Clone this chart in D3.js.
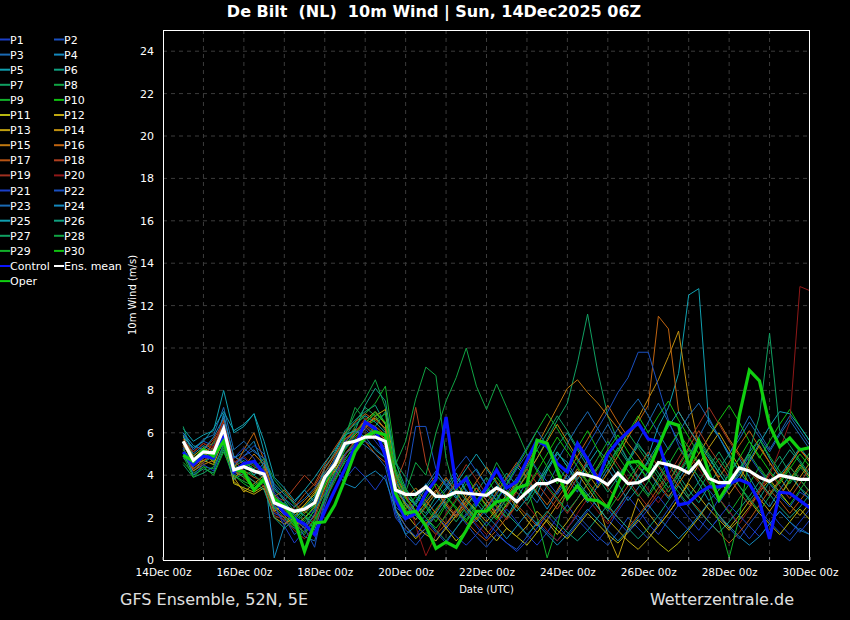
<!DOCTYPE html>
<html><head><meta charset="utf-8">
<script src="https://cdn.jsdelivr.net/npm/d3@7"></script>
<style>
html,body{margin:0;padding:0;background:#000;}
svg{display:block;}
text{font-family:"DejaVu Sans",Verdana,sans-serif;}
</style></head><body>
<svg id="chart" width="850" height="620"></svg>
<script>
// ---------- data ----------
const startTime = "2025-12-14T12:00:00Z";   // first forecast step
const stepHours = 6;
const xTickDates = ["2025-12-14","2025-12-16","2025-12-18","2025-12-20","2025-12-22","2025-12-24","2025-12-26","2025-12-28","2025-12-30"];
const xTickLabels = ["14Dec 00z","16Dec 00z","18Dec 00z","20Dec 00z","22Dec 00z","24Dec 00z","26Dec 00z","28Dec 00z","30Dec 00z"];
const yTicks = [0,2,4,6,8,10,12,14,16,18,20,22,24];

const p1=[5.2,4.6,5.0,4.8,5.9,4.6,4.8,4.4,4.2,2.5, 1.8,1.5,2.0,2.4,3.8,4.6,3.8,4.4,3.9,3.3, 4.0,2.0,1.4,1.1,1.9,1.3,0.8,1.5,2.2,1.6, 1.0,1.7,2.4,1.8,1.2,0.7,1.3,2.0,2.6,1.9, 1.4,0.9,1.5,2.3,3.0,2.4,1.7,1.2,1.9,2.6, 2.0,1.4,2.1,2.9,2.3,1.6,1.0,1.6,2.3,1.7, 1.2,1.8,2.4];
const p2=[6.0,5.2,5.6,5.4,6.4,4.0,4.3,4.6,3.9,2.2, 2.0,1.2,1.6,2.1,3.2,4.4,5.2,5.9,6.6,6.1, 5.0,2.2,1.2,0.7,1.3,0.9,1.6,2.3,1.7,1.1, 0.6,1.2,0.8,0.5,1.1,1.8,1.3,0.9,1.5,2.1, 1.6,1.1,0.7,1.3,2.0,1.5,1.0,1.7,2.4,3.1, 2.5,1.9,1.4,2.0,1.5,1.0,1.7,2.3,1.8,1.3, 0.9,1.5,1.2];
const p3=[5.5,4.5,4.8,5.3,6.8,4.4,4.9,5.2,4.6,3.1, 2.5,2.0,1.1,0.9,2.6,3.9,4.8,5.3,5.7,6.2, 5.8,3.9,2.7,2.3,2.8,3.3,2.5,2.1,3.0,3.6, 2.8,2.3,3.1,3.9,3.3,2.7,3.5,4.4,3.8,3.2, 4.8,5.6,6.4,5.5,4.7,5.6,6.5,7.4,6.5,5.6, 4.9,5.8,6.7,5.8,5.0,5.9,6.8,6.0,5.2,6.0, 6.8,6.1,5.4];
const p4=[5.8,5.0,5.4,5.1,6.9,4.8,5.1,5.6,4.3,0.1, 1.6,2.4,2.1,1.4,2.9,4.2,5.0,5.5,6.3,5.9, 5.2,2.3,1.9,2.7,3.6,2.9,3.4,4.1,3.2,2.6, 3.3,2.5,2.0,2.9,3.7,3.1,2.4,3.2,4.0,3.4, 2.7,3.5,4.3,3.6,2.8,3.4,4.2,3.5,2.9,3.8, 4.5,3.6,2.8,3.3,4.1,4.8,3.9,3.1,2.5,3.3, 4.0,3.4,2.8];
const p5=[6.2,5.6,5.9,6.1,8.0,6.0,6.3,6.9,5.1,3.4, 2.8,2.1,2.5,3.0,4.4,5.0,6.0,6.4,6.8,6.5, 6.0,3.6,3.0,2.6,3.4,4.0,3.5,2.9,3.8,4.3, 3.5,2.8,3.6,4.4,3.9,3.1,4.2,5.0,4.6,3.8, 4.5,5.2,4.7,3.9,4.6,5.4,4.9,6.3,7.2,8.8, 12.5,12.8,6.4,5.8,4.9,4.2,5.1,5.7,4.8,4.0, 4.6,5.3,4.7];
const p6=[5.0,4.2,4.6,4.9,6.1,4.1,4.6,4.3,3.8,2.9, 2.2,1.9,2.4,2.9,4.3,5.1,6.1,6.6,7.0,7.3, 6.4,4.2,3.1,2.6,2.2,3.0,3.8,3.2,2.5,2.0, 2.7,3.4,4.1,3.5,2.8,3.6,4.5,5.4,6.0,5.2, 4.4,3.7,4.5,5.3,4.6,3.8,3.1,3.9,4.7,4.0, 3.3,2.7,3.5,4.3,5.0,4.2,3.5,2.9,3.7,4.5, 5.2,4.6,3.9];
const p7=[6.3,4.8,5.2,5.0,6.0,4.4,4.7,4.2,4.0,2.8, 2.4,1.7,2.2,2.6,3.7,4.5,5.8,6.5,7.2,6.8, 6.1,3.4,2.6,1.9,2.6,3.1,2.4,1.8,2.5,3.2, 3.9,3.1,2.5,3.3,4.1,4.8,5.7,6.6,7.4,9.3, 11.6,8.9,6.8,5.6,4.7,3.9,4.6,5.3,4.5,3.8, 3.0,3.7,4.4,5.1,4.3,3.5,2.8,3.4,4.2,4.9, 4.1,3.4,3.0];
const p8=[5.3,4.9,5.3,5.5,6.3,4.5,4.2,4.0,4.4,3.3, 2.9,2.3,1.8,2.3,3.5,4.8,5.9,6.9,7.6,8.5, 7.2,4.5,5.6,7.6,9.1,8.7,4.8,3.0,2.2,2.8, 3.5,4.6,3.8,3.2,2.6,3.4,4.3,5.1,4.4,3.6, 3.0,3.7,4.5,5.2,6.0,5.3,4.6,3.9,3.2,4.0, 4.8,5.6,4.9,4.1,3.4,4.2,5.0,4.3,3.6,3.0, 3.7,4.4,3.8];
const p9=[4.6,4.1,4.4,4.3,5.3,4.0,3.6,3.3,3.7,2.5, 2.0,1.5,1.2,1.9,3.4,4.5,5.5,6.3,6.9,7.4, 8.2,4.8,2.9,2.3,1.7,2.4,3.0,2.5,1.9,2.6, 3.2,2.6,2.0,2.7,3.4,2.0,0.1,1.6,3.6,4.3, 3.6,2.9,2.3,3.0,3.8,4.5,3.8,3.1,3.7,4.4, 5.2,4.5,3.7,2.9,2.2,2.9,3.6,4.4,3.7,3.1, 2.6,3.3,4.0];
const p10=[5.6,4.4,4.9,5.2,5.8,3.9,4.2,4.5,4.1,2.7, 2.2,1.8,2.3,2.0,3.3,4.1,5.2,5.8,6.3,6.6, 6.9,3.8,2.4,3.0,2.5,1.8,2.6,3.3,4.0,3.2, 2.5,1.9,2.7,3.5,4.3,5.2,4.4,3.6,4.4,5.3, 6.1,5.2,4.3,5.1,6.0,6.8,6.0,6.8,7.5,6.6, 5.8,5.0,5.8,6.6,7.3,6.5,5.6,4.8,5.6,6.4, 7.1,6.3,5.6];
const p11=[5.9,4.3,4.7,4.5,5.7,3.6,3.4,3.2,3.5,2.3, 2.6,2.2,2.6,3.1,4.0,4.4,5.0,5.4,5.9,6.1, 5.7,2.4,1.6,1.0,1.5,2.1,1.5,0.9,1.4,2.0, 1.4,0.9,1.5,1.1,0.7,1.3,1.9,1.4,1.0,1.6, 2.2,1.7,1.2,0.8,1.3,1.9,1.3,0.8,0.4,0.8, 1.4,2.0,2.7,2.1,1.5,2.1,2.8,2.2,1.7,1.2, 1.8,2.4,1.9];
const p12=[5.4,4.7,5.1,4.6,6.2,3.7,3.3,3.1,3.4,2.0, 1.7,2.0,2.6,3.2,3.9,4.7,5.4,6.0,6.6,7.0, 6.4,2.9,2.2,1.6,1.2,0.9,1.5,2.1,2.8,3.4, 2.8,2.1,1.5,1.1,1.6,2.3,1.8,1.2,1.8,2.5, 3.1,2.5,1.9,1.4,0.9,0.5,1.0,1.6,2.2,2.9, 3.6,3.0,2.4,1.9,1.4,1.9,2.5,3.2,3.8,3.2, 2.6,2.1,2.7];
const p13=[5.1,4.5,4.7,4.9,6.0,3.9,3.2,3.6,4.0,2.6, 2.1,1.6,2.0,2.5,3.6,4.2,5.0,5.6,6.2,6.8, 7.1,4.1,3.0,2.3,1.7,2.3,3.0,3.7,2.9,2.3, 1.8,2.4,3.1,2.5,1.9,1.3,1.9,2.6,3.3,4.1, 3.4,2.7,1.2,0.1,1.5,2.9,2.2,1.6,2.2,2.9, 3.7,4.5,5.3,6.0,5.2,4.4,3.6,2.9,2.3,3.0, 3.8,4.5,3.9];
const p14=[5.7,4.9,5.3,5.0,6.1,4.2,3.9,3.4,3.8,2.4, 2.5,1.9,1.5,2.1,3.4,4.3,5.4,5.9,6.4,6.7, 6.2,3.5,2.6,2.1,2.7,3.3,2.6,2.0,2.6,3.2, 2.6,2.0,2.6,3.3,4.0,4.8,5.6,6.4,5.6,4.8, 4.1,3.4,4.1,4.9,5.8,6.7,7.6,8.5,9.6,10.8, 7.6,5.4,4.6,3.8,3.1,3.8,4.6,5.4,4.6,3.9, 3.2,3.9,4.6];
const p15=[5.3,4.2,4.5,4.7,5.6,3.8,4.4,5.0,4.5,2.8, 2.6,2.3,2.8,3.3,4.1,4.9,5.7,6.1,6.5,6.3, 5.9,3.7,2.9,3.4,2.8,2.2,1.7,2.3,3.0,3.7, 4.4,3.7,3.0,3.7,4.5,5.4,6.3,7.2,8.1,8.5, 7.9,7.4,6.8,6.2,5.5,4.9,4.2,3.6,3.0,3.6, 4.3,5.0,5.8,6.5,5.7,5.0,4.3,3.7,3.1,3.8, 4.5,5.2,4.7];
const p16=[5.6,5.1,5.5,5.2,6.6,4.3,5.2,6.0,4.7,3.0, 3.3,2.7,2.2,2.8,3.9,4.6,5.5,6.2,5.6,5.0, 4.6,3.1,2.4,1.9,2.5,3.2,3.9,3.2,2.5,1.9, 2.5,3.2,3.9,4.6,3.9,3.2,2.6,3.3,4.1,4.9, 5.7,6.5,7.3,6.5,5.8,6.5,7.3,11.5,10.9,7.0, 6.2,5.4,4.6,3.9,4.6,5.4,6.1,5.3,4.6,3.9, 4.5,5.2,4.6];
const p17=[5.0,4.4,4.8,5.6,6.3,4.7,4.2,3.9,3.7,2.3, 2.0,2.5,3.1,3.6,4.5,5.3,6.0,6.5,6.9,6.6, 6.2,4.0,3.0,2.3,1.7,1.2,1.7,2.4,1.8,1.3, 0.9,1.4,2.0,2.6,2.1,1.6,2.2,2.9,3.6,4.3, 3.7,3.1,2.5,2.0,1.5,2.1,2.7,3.4,4.1,3.5, 2.9,2.4,1.8,1.3,0.8,1.3,1.9,2.6,3.3,2.8, 2.2,2.8,3.4];
const p18=[5.4,4.8,5.2,5.7,6.5,4.9,4.5,4.1,4.3,3.0, 2.8,3.4,4.0,3.5,4.3,5.0,5.7,6.1,6.4,6.0, 5.5,3.6,4.8,7.2,4.6,3.4,2.7,2.1,2.7,3.4, 2.8,2.2,2.9,3.6,4.3,3.6,3.0,2.4,3.1,3.9, 4.7,4.0,3.4,2.8,3.5,4.3,5.1,4.4,3.7,4.5, 5.3,6.1,5.3,4.6,3.9,3.2,2.6,3.3,4.1,3.5, 2.9,3.6,4.4];
const p19=[4.9,4.3,4.6,5.4,5.8,4.2,4.0,3.7,3.5,2.1, 1.9,1.4,1.0,1.6,2.8,3.9,4.9,5.7,6.3,5.8, 5.3,3.2,2.7,2.2,1.7,2.3,3.0,3.7,4.5,3.8, 3.1,2.5,1.9,2.6,3.3,4.1,3.4,2.8,2.2,2.9, 3.6,4.4,5.2,4.5,3.8,3.1,2.5,3.2,4.0,4.8, 5.6,6.4,7.2,6.4,5.6,4.9,4.2,3.6,3.0,3.7, 4.4,3.8,3.2];
const p20=[5.7,5.1,5.5,5.3,6.7,4.6,4.9,4.4,4.1,2.9, 2.4,1.8,1.3,2.0,3.3,4.4,5.3,6.0,6.7,6.2, 5.6,3.9,3.3,1.6,0.2,1.2,2.2,2.9,2.3,1.7, 1.2,1.8,2.5,3.2,2.6,2.0,1.4,0.9,1.5,2.2, 2.9,2.3,1.7,2.4,3.2,4.0,3.3,2.7,3.4,4.2, 5.0,4.3,3.6,2.9,2.3,1.7,2.4,3.2,4.0,5.2, 6.5,12.9,12.7];
const p21=[5.3,4.0,4.5,4.2,5.5,4.8,5.3,4.8,4.0,2.6, 1.6,0.8,1.4,2.2,3.7,4.8,5.6,6.0,6.2,5.6, 5.0,2.3,1.6,1.1,1.5,2.1,1.6,1.1,0.7,1.2, 1.8,1.3,0.8,0.4,0.9,1.5,2.1,1.6,1.1,1.7, 2.3,2.9,2.4,1.8,1.3,1.8,2.4,3.0,2.4,1.9, 1.4,0.9,1.4,2.0,2.6,2.1,1.6,1.1,1.7,2.3, 1.8,1.3,1.9];
const p22=[4.8,4.4,4.9,5.0,6.4,4.5,4.9,5.4,5.0,3.2, 2.6,2.0,1.5,0.6,2.9,4.0,5.0,5.4,5.6,5.3, 4.8,3.0,3.5,6.3,6.3,4.3,3.5,4.3,4.9,4.2, 3.5,2.8,3.5,4.3,5.0,4.3,3.7,3.1,3.8,4.6, 5.4,6.2,7.0,7.9,8.6,9.8,9.8,8.2,6.6,5.4, 4.6,3.9,3.3,2.7,3.4,4.1,4.9,4.2,3.6,3.0, 2.5,3.2,2.9];
const p23=[5.9,5.2,5.7,5.9,7.2,5.2,5.6,5.1,4.8,3.5, 2.9,2.5,2.9,3.4,4.1,4.7,5.3,5.7,5.4,5.0, 4.4,2.5,2.1,2.8,3.5,4.2,3.6,3.0,2.4,1.8, 2.4,3.1,3.8,4.5,5.3,6.1,5.4,4.7,5.5,6.3, 7.0,6.2,5.4,6.2,7.0,7.6,6.8,6.0,5.2,6.0, 6.8,7.4,6.6,5.8,5.0,5.7,6.5,5.8,5.1,5.9, 6.6,5.9,5.2];
const p24=[6.0,5.4,5.2,5.8,6.7,4.9,4.6,4.0,4.6,3.6, 3.1,2.7,3.3,2.7,3.9,4.3,3.6,3.4,3.9,4.2, 3.8,2.4,1.2,1.6,2.1,2.7,3.3,3.9,3.3,2.7, 2.1,1.6,1.0,1.6,2.2,1.7,1.2,0.7,1.2,1.8, 2.4,1.9,1.4,0.9,1.4,2.0,2.6,2.0,1.5,1.0, 1.5,2.1,2.7,2.1,1.6,1.1,0.7,1.1,1.7,2.3, 1.8,1.4,1.2];
const p25=[5.8,5.3,5.6,6.2,7.0,6.1,6.4,6.9,5.6,3.9, 3.4,2.8,3.3,3.9,4.6,5.2,5.9,6.1,5.8,5.2, 4.8,3.4,2.7,2.1,1.6,2.2,2.9,3.6,4.3,5.0, 4.3,3.6,2.9,2.3,2.9,3.6,4.3,5.1,4.4,3.7, 3.1,2.5,1.9,2.5,3.2,3.9,4.7,5.5,6.3,7.0, 6.2,5.5,4.8,4.1,3.4,4.0,4.7,5.5,6.3,7.0, 6.9,6.3,5.6];
const p26=[5.1,4.0,4.3,4.1,5.2,3.8,4.1,3.7,3.3,2.0, 1.5,1.9,2.5,3.0,3.8,4.4,5.3,6.1,7.3,8.1, 7.5,4.6,3.4,2.6,2.0,1.4,0.9,1.5,2.1,2.7, 3.4,2.8,2.2,1.7,1.2,1.7,2.3,1.8,1.3,0.9, 1.4,2.0,2.6,2.0,1.5,1.0,1.5,2.1,2.8,3.5, 2.9,2.3,1.8,1.3,1.8,2.4,3.0,3.7,3.1,2.5, 2.0,2.5,3.1];
const p27=[4.5,3.9,4.1,4.4,5.4,4.2,4.5,4.0,3.6,2.4, 2.7,2.1,1.6,2.4,3.1,3.8,4.6,5.2,5.8,6.3, 7.0,4.6,3.9,3.2,2.6,2.0,2.7,3.4,2.8,2.2, 1.6,2.2,2.9,3.6,4.4,5.2,6.0,6.8,6.1,5.3, 4.6,3.9,3.2,3.9,4.7,5.5,4.8,4.1,3.4,4.1, 4.9,5.7,5.0,4.3,3.6,4.3,5.1,6.8,10.7,6.1, 5.4,4.7,4.0];
const p28=[5.5,4.7,5.0,4.7,5.9,4.3,3.9,4.3,4.8,3.8, 3.2,2.6,2.1,1.7,3.0,4.6,5.8,7.2,6.6,6.0, 5.4,4.1,3.2,4.6,4.0,6.0,7.5,8.6,10.0,8.2, 7.1,8.3,7.2,6.1,5.0,4.2,3.5,2.9,2.3,2.9, 3.6,4.3,5.0,4.3,3.6,3.0,3.7,4.5,3.8,3.2, 2.6,3.3,4.1,4.8,4.1,3.5,2.9,2.3,3.0,3.7, 4.4,3.8,3.2];
const p29=[4.9,3.9,4.4,4.0,5.1,4.0,3.7,3.5,3.9,2.7, 2.3,1.7,1.3,1.9,2.8,3.7,4.7,5.5,6.4,7.0, 6.5,4.3,3.3,2.6,2.0,1.5,2.1,2.8,3.6,2.9, 2.3,2.9,3.6,4.4,5.2,6.1,6.9,6.2,5.4,4.7, 4.0,4.8,5.6,4.9,4.2,3.6,3.0,3.7,4.5,5.3, 4.6,3.9,3.2,1.8,0.1,2.0,4.9,5.7,4.9,4.2, 3.6,4.3,5.1];
const p30=[5.2,4.6,5.0,4.7,5.9,4.1,4.4,4.6,4.2,2.9, 2.3,1.6,1.9,2.6,3.6,4.4,5.4,6.0,6.5,6.9, 6.5,4.0,2.9,2.3,2.9,3.6,3.0,2.4,1.8,2.5, 3.2,3.9,3.3,2.7,3.4,4.2,5.0,5.8,5.1,4.4, 3.7,4.4,5.2,5.9,5.1,4.4,3.8,4.5,5.3,6.0, 5.3,4.6,3.9,3.3,4.0,4.8,5.6,4.9,4.2,3.6, 4.3,5.0,4.4];

const control=[5.1,4.5,4.9,4.8,5.8,4.15,4.55,4.65,4.1,2.85, 2.2,1.95,1.7,1.2,2.3,3.3,4.3,5.35,6.5,6.2, 4.9,2.85,1.95,2.2,3.15,3.8,6.75,3.45,3.85,2.65, 3.45,4.25,3.4,3.7,4.7,5.65,5.35,4.55,4.15,5.5, 4.75,3.75,5.0,5.6,6.05,6.45,5.7,5.6,4.0,2.6, 2.7,3.15,3.45,3.45,3.6,3.8,3.6,2.75,1.0,3.2, 3.15,2.8,2.45];
const ensMean=[5.6,4.7,5.1,5.05,6.2,4.25,4.4,4.2,4.05,2.7, 2.5,2.3,2.4,2.7,3.9,4.5,5.5,5.6,5.8,5.8, 5.6,3.3,3.1,3.1,3.45,3.0,3.0,3.2,3.15,3.1, 3.05,3.4,3.15,2.75,3.2,3.6,3.6,3.8,3.65,4.1, 4.0,3.85,3.55,4.1,3.6,3.65,3.9,4.6,4.5,4.35, 4.1,4.65,3.85,3.65,3.65,4.35,4.2,3.9,3.7,4.0, 3.9,3.8,3.8];
const oper=[4.95,4.65,5.2,4.9,5.6,4.3,4.15,3.3,3.8,2.9, 2.55,1.9,0.4,1.75,1.8,2.6,3.8,5.1,5.8,6.05, 5.9,3.15,2.2,2.3,1.6,0.55,0.85,0.6,1.4,2.3, 2.3,2.75,2.85,3.4,3.55,5.65,5.5,4.25,2.9,3.5, 2.85,2.8,2.5,3.6,4.6,4.65,4.2,5.35,6.5,6.35, 4.4,5.6,4.1,2.85,3.6,6.8,8.95,8.45,6.35,5.35, 5.75,5.2,5.3];

const memberNames=["P1","P2","P3","P4","P5","P6","P7","P8","P9","P10","P11","P12","P13","P14","P15","P16","P17","P18","P19","P20","P21","P22","P23","P24","P25","P26","P27","P28","P29","P30"];
const memberColors=["#1a3ec8","#1a50c0","#1a6ab4","#1488bc","#10a0b0","#10a080","#10a062","#10a444","#12b02a","#10c010",
                    "#b8b810","#c0a810","#c0a010","#c09010","#c07810","#c06410","#b85414","#b04020","#a03020","#901818",
                    "#1a3ec8","#1a50c0","#1a6ab4","#1488bc","#10a0b0","#10a080","#10a062","#10a444","#12b02a","#10c010"];
const memberValues=[p1,p2,p3,p4,p5,p6,p7,p8,p9,p10,p11,p12,p13,p14,p15,p16,p17,p18,p19,p20,p21,p22,p23,p24,p25,p26,p27,p28,p29,p30];
const controlColor="#0a14ff", meanColor="#ffffff", operColor="#10d010";

// ---------- chart ----------
const W=850,H=620;
const M={left:163,right:810,top:30,bottom:560};
const svg=d3.select("#chart");
svg.append("rect").attr("width",W).attr("height",H).attr("fill","#000");

const t0=new Date(startTime);
const times=d3.range(ensMean.length).map(i=>new Date(t0.getTime()+i*stepHours*3600e3));
const x=d3.scaleUtc().domain([new Date("2025-12-14T00:00:00Z"),new Date("2025-12-30T00:00:00Z")]).range([M.left,M.right]);
const y=d3.scaleLinear().domain([0,25]).range([M.bottom,M.top]);

// grid
const gridG=svg.append("g");
const dayTicks=d3.utcDay.range(new Date("2025-12-15T00:00:00Z"),new Date("2025-12-30T00:00:00Z"));
gridG.selectAll("line.v").data(dayTicks).join("line")
  .attr("x1",d=>x(d)).attr("x2",d=>x(d)).attr("y1",M.top).attr("y2",M.bottom)
  .attr("stroke","#3c3c3c").attr("stroke-dasharray","4,4").attr("stroke-width",1);
gridG.selectAll("line.h").data(yTicks.filter(v=>v>0)).join("line")
  .attr("x1",M.left).attr("x2",M.right).attr("y1",d=>y(d)).attr("y2",d=>y(d))
  .attr("stroke","#3c3c3c").attr("stroke-dasharray","4,4").attr("stroke-width",1);

const line=d3.line().x((d,i)=>x(times[i])).y(d=>y(d));
svg.append("clipPath").attr("id","clip").append("rect")
  .attr("x",M.left).attr("y",M.top).attr("width",M.right-M.left).attr("height",M.bottom-M.top);
const lines=svg.append("g").attr("clip-path","url(#clip)");
memberValues.forEach((vals,k)=>{
  lines.append("path").datum(vals).attr("d",line).attr("fill","none")
    .attr("stroke",memberColors[k]).attr("stroke-width",1);
});
lines.append("path").datum(control).attr("d",line).attr("fill","none").attr("stroke",controlColor).attr("stroke-width",3.2);
lines.append("path").datum(oper).attr("d",line).attr("fill","none").attr("stroke",operColor).attr("stroke-width",3.2);
lines.append("path").datum(ensMean).attr("d",line).attr("fill","none").attr("stroke",meanColor).attr("stroke-width",3.2);

// frame
svg.append("rect").attr("x",M.left+0.5).attr("y",M.top+0.5).attr("width",M.right-M.left-1).attr("height",M.bottom-M.top)
  .attr("fill","none").attr("stroke","#ffffff").attr("stroke-width",1);

// axes
const yAxis=d3.axisLeft(y).tickValues(yTicks).tickSize(0).tickPadding(9);
const gy=svg.append("g").attr("transform",`translate(${M.left},0)`).call(yAxis);
gy.select(".domain").remove();
gy.selectAll("text").attr("fill","#fff").style("font-size","11px").style("font-family","DejaVu Sans");

const xAxis=d3.axisBottom(x).tickValues(xTickDates.map(d=>new Date(d+"T00:00:00Z"))).tickFormat((d,i)=>xTickLabels[i]).tickSize(0).tickPadding(9);
const gx=svg.append("g").attr("transform",`translate(0,${M.bottom})`).call(xAxis);
gx.select(".domain").remove();
gx.selectAll("text").attr("fill","#fff").style("font-size","10.5px").style("font-family","DejaVu Sans");

svg.append("g").selectAll("line").data(d3.utcDay.range(new Date("2025-12-14T00:00:00Z"),new Date("2025-12-30T12:00:00Z"),1)).join("line")
  .attr("x1",d=>x(d)).attr("x2",d=>x(d)).attr("y1",M.bottom).attr("y2",M.bottom-3).attr("stroke","#aaa");

svg.append("text").attr("x",(M.left+M.right)/2).attr("y",593).attr("text-anchor","middle")
  .attr("fill","#fff").style("font-size","10px").text("Date (UTC)");
svg.append("text").attr("transform",`translate(136,${(M.top+M.bottom)/2}) rotate(-90)`).attr("text-anchor","middle")
  .attr("fill","#fff").style("font-size","10px").text("10m Wind (m/s)");

// title
svg.append("text").attr("x",434).attr("y",17).attr("text-anchor","middle").attr("fill","#fff")
  .attr("xml:space","preserve").style("white-space","pre")
  .style("font-size","16px").style("font-weight","bold")
  .text("De Bilt  (NL)  10m Wind | Sun, 14Dec2025 06Z");

// footer
svg.append("text").attr("x",120).attr("y",605).attr("fill","#e0e0e0").style("font-size","16px").text("GFS Ensemble, 52N, 5E");
svg.append("text").attr("x",794).attr("y",605).attr("text-anchor","end").attr("fill","#e0e0e0").style("font-size","16px").text("Wetterzentrale.de");

// legend
const legendItems=memberNames.map((n,i)=>({name:n,color:memberColors[i]}))
  .concat([{name:"Control",color:controlColor},{name:"Ens. mean",color:meanColor},{name:"Oper",color:operColor}]);
const lg=svg.append("g");
legendItems.forEach((d,i)=>{
  const col=i%2,row=Math.floor(i/2);
  const lx=col===0?0:54, ly=39.5+row*15.1;
  lg.append("line").attr("x1",lx).attr("x2",lx+10).attr("y1",ly).attr("y2",ly).attr("stroke",d.color).attr("stroke-width",2);
  lg.append("text").attr("x",lx+10).attr("y",ly+4).attr("fill","#fff").style("font-size","11px").text(d.name);
});
</script>
</body></html>
